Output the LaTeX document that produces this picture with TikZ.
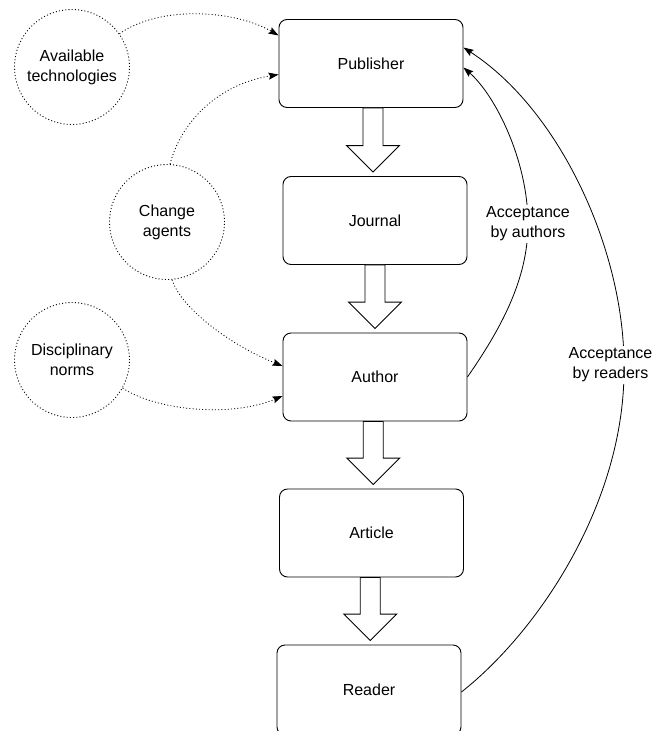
\documentclass[tikz,border=0pt]{standalone}
\usepackage{fontspec}
\setmainfont{Liberation Sans}
\usetikzlibrary{arrows.meta,calc}

% hollow block arrow from the bottom of one stage to the top of the next
\newcommand\flowarrow[2]{%
  \draw[flow] let \p1=(#1.south), \p2=(#2.north), \n1={(\x1+\x2)/2} in
    (\n1-10,\y1) -- (\n1-10,\y2+30.5) -- (\n1-26.5,\y2+30.5) -- (\n1,\y2+4)
    -- (\n1+26.5,\y2+30.5) -- (\n1+10,\y2+30.5) -- (\n1+10,\y1) -- cycle;}

\begin{document}
\begin{tikzpicture}[x=1pt,y=1pt,
  font=\fontsize{16}{20}\selectfont,
  stage/.style={draw, line width=0.9pt, rounded corners=8pt,
    minimum width=184pt, minimum height=88pt, inner sep=0pt},
  factor/.style={circle, draw, line width=0.9pt, dash pattern=on 1pt off 2.2pt,
    minimum size=115pt, inner sep=0pt, align=center},
  tipstyle/.style={-{Stealth[length=10pt,width=7pt,inset=1.5pt]}},
  influence/.style={tipstyle, line width=0.8pt, dash pattern=on 1pt off 2.2pt},
  acceptance/.style={tipstyle, line width=0.8pt},
  tag/.style={fill=white, align=center, inner sep=2pt},
  flow/.style={draw, line width=0.9pt, fill=white, line join=miter}
]
\useasboundingbox (0,0) rectangle (654,-731);

% main chain
\node[stage] (publisher) at (371,-63.5) {Publisher};
\node[stage] (journal)   at (375,-220.5) {Journal};
\node[stage] (author)    at (375,-377) {Author};
\node[stage] (article)   at (371.5,-533) {Article};
\node[stage, minimum height=90pt] (reader) at (369,-690) {Reader};

\flowarrow{publisher}{journal}
\flowarrow{journal}{author}
\flowarrow{author}{article}
\flowarrow{article}{reader}

% outside influences
\node[factor] (tech)   at (72,-67)   {Available\\technologies};
\node[factor] (agents) at (167,-222) {Change\\agents};
\node[factor] (norms)  at (72,-360)  {Disciplinary\\norms};

\draw[influence] (tech.35) .. controls (160,-5) and (235,-10) .. ([yshift=28pt]publisher.west);
\draw[influence] (agents.87) .. controls (180,-125) and (215,-85) .. ([yshift=-11pt]publisher.west);
\draw[influence] (agents.-85) .. controls (181,-308) and (230,-345) .. ([yshift=11pt]author.west);
\draw[influence] (norms.-29) .. controls (155,-410) and (230,-418) .. ([yshift=-19pt]author.west);

% acceptance feedback
\draw[acceptance] (author.east) .. controls (500,-330) and (528,-280) .. (528,-224)
  .. controls (528,-160) and (495,-95) .. ([yshift=-4pt]publisher.east);
\draw[acceptance] ([yshift=-2pt]reader.east) .. controls (540,-630) and (626,-500) .. (624,-365)
  .. controls (624,-250) and (560,-110) .. ([yshift=16pt]publisher.east);

\node[tag] (byauthors) at (528,-224) {Acceptance\\by authors};
\node[tag] (byreaders) at (610.5,-365) {Acceptance\\by readers};
\end{tikzpicture}
\end{document}
